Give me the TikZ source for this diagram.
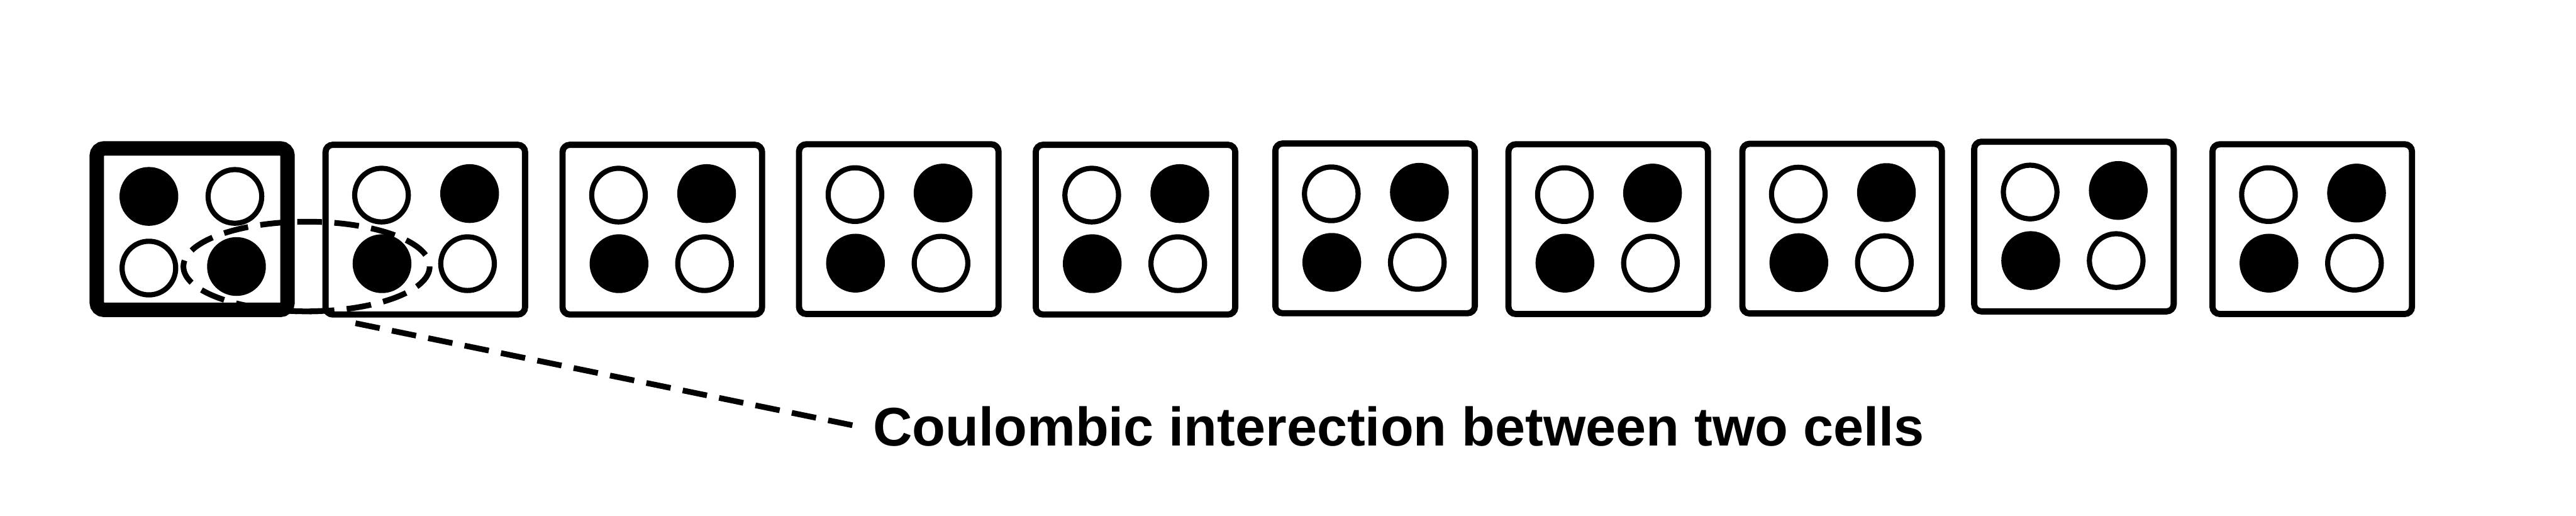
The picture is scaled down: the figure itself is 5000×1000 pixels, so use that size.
\documentclass[tikz,border=0pt]{standalone}
\usepackage{fontspec}
\setsansfont{Liberation Sans}

\begin{document}
\begin{tikzpicture}[x=0.01cm, y=-0.01cm,
  cellbox/.style={draw, line width=0.12cm, rounded corners=0.14cm, minimum width=3.87cm, minimum height=3.29cm, inner sep=0},
  plus/.style={circle, fill=black, minimum size=1.14cm, inner sep=0},
  hole/.style={circle, draw, line width=0.1cm, minimum size=1.04cm, inner sep=0},
  leader/.style={line width=0.11cm, dash pattern=on 0.48cm off 0.24cm}]
  \useasboundingbox (0,0) rectangle (5000,1000);
  % first cell, heavier frame
  \node[cellbox, line width=0.28cm, minimum width=3.70cm, minimum height=3.13cm] (cell1) at (373,444.5) {};
  \node[plus] (c1tl) at (289,381) {};
  \node[hole] (c1tr) at (456,381) {};
  \node[hole] (c1bl) at (289,520) {};
  \node[plus] (c1br) at (459,517) {};
  % the other cells
  \foreach \n/\x/\y in {2/825.5/445.5, 3/1285.5/445.5, 4/1744.5/444.5, 5/2204/445.5, 6/2669/443,
                        7/3121.5/444.5, 8/3575.5/443.5, 9/4025.5/439.5, 10/4488/444.5}{
    \node[cellbox] (cell\n) at (\x,\y) {};
    \node[hole] (c\n tl) at (\x-85,\y-67) {};
    \node[plus] (c\n tr) at (\x+86,\y-70) {};
    \node[plus] (c\n bl) at (\x-84,\y+66) {};
    \node[hole] (c\n br) at (\x+82,\y+66) {};
  }
  % interacting pair
  \draw[leader] (595,517) ellipse [x radius=239, y radius=87];
  \draw[line width=0.11cm] (595,517) ++(97.7:239 and 87) arc[start angle=97.7, end angle=82.5, x radius=239, y radius=87];
  % label
  \coordinate (lead) at (690,627);
  \node[font=\fontsize{30pt}{36pt}\selectfont\sffamily\bfseries, anchor=base west, inner xsep=0.28cm, inner ysep=0] (note) at (1666,865) {Coulombic interection between two cells};
  \draw[leader] (lead) -- (note.west);
\end{tikzpicture}
\end{document}
